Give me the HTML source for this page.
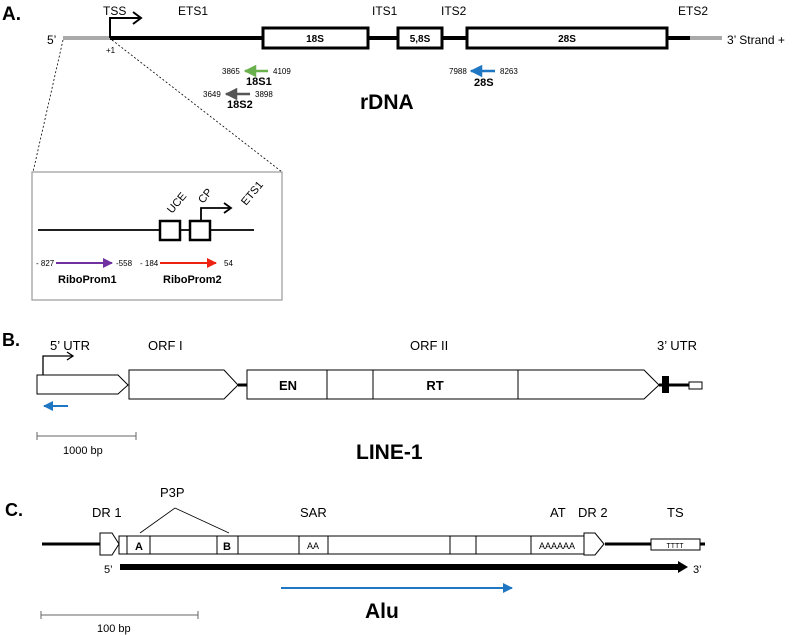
<!DOCTYPE html>
<html><head><meta charset="utf-8"><style>
html,body{margin:0;padding:0;background:#fff}
svg{display:block;font-family:"Liberation Sans","DejaVu Sans",sans-serif}
</style></head><body>
<svg width="794" height="635" viewBox="0 0 794 635" xmlns="http://www.w3.org/2000/svg">
<defs>
<marker id="ah" viewBox="0 0 10 10" refX="9" refY="5" markerWidth="5" markerHeight="5" orient="auto"><path d="M0,0 L10,5 L0,10 z" fill="context-stroke"/></marker>
</defs>
<!-- A -->
<text x="2" y="20" font-size="19" font-weight="bold">A.</text>
<line x1="63" y1="38" x2="110" y2="38" stroke="#aaa" stroke-width="4"/>
<line x1="690" y1="38" x2="722" y2="38" stroke="#aaa" stroke-width="4"/>
<line x1="110" y1="38" x2="690" y2="38" stroke="#000" stroke-width="4"/>
<polyline points="110,38 110,18 140,18" fill="none" stroke="#000" stroke-width="2"/>
<polyline points="133,12 141,18 133,24" fill="none" stroke="#000" stroke-width="2"/>
<rect x="263" y="28" width="105" height="20" fill="#fff" stroke="#000" stroke-width="3"/>
<rect x="398" y="28" width="44" height="20" fill="#fff" stroke="#000" stroke-width="3"/>
<rect x="467" y="28" width="200" height="20" fill="#fff" stroke="#000" stroke-width="3"/>
<g font-size="10" font-weight="bold" text-anchor="middle"><text x="315" y="42">18S</text><text x="420" y="42">5,8S</text><text x="567" y="42">28S</text></g>
<g font-size="12"><text x="103" y="15">TSS</text><text x="178" y="15">ETS1</text><text x="372" y="15">ITS1</text><text x="441" y="15">ITS2</text><text x="678" y="15">ETS2</text>
<text x="47" y="44">5’</text><text x="727" y="44">3’  Strand +</text></g>
<text x="106" y="53" font-size="8">+1</text>
<g font-size="8"><text x="222" y="74">3865</text><text x="273" y="74">4109</text><text x="203" y="97">3649</text><text x="255" y="97">3898</text>
<text x="449" y="74">7988</text><text x="500" y="74">8263</text></g>
<g font-size="11" font-weight="bold"><text x="246" y="85">18S1</text><text x="227" y="108">18S2</text><text x="474" y="86">28S</text></g>
<line x1="268" y1="71" x2="245" y2="71" stroke="#6ab04c" stroke-width="2.5" marker-end="url(#ah)"/>
<line x1="250" y1="94" x2="226" y2="94" stroke="#555" stroke-width="2.5" marker-end="url(#ah)"/>
<line x1="495" y1="71" x2="471" y2="71" stroke="#1f77c4" stroke-width="2.5" marker-end="url(#ah)"/>
<text x="360" y="109" font-size="21" font-weight="bold">rDNA</text>
<line x1="63" y1="40" x2="33" y2="172" stroke="#000" stroke-width="0.8" stroke-dasharray="2,2"/>
<line x1="112" y1="40" x2="282" y2="172" stroke="#000" stroke-width="0.8" stroke-dasharray="2,2"/>
<rect x="32" y="172" width="250" height="128" fill="none" stroke="#999" stroke-width="1.2"/>
<line x1="38" y1="230" x2="254" y2="230" stroke="#000" stroke-width="1.8"/>
<rect x="160" y="221" width="20" height="19" fill="#fff" stroke="#000" stroke-width="2.5"/>
<rect x="190" y="221" width="20" height="19" fill="#fff" stroke="#000" stroke-width="2.5"/>
<polyline points="201,221 201,208 230,208" fill="none" stroke="#000" stroke-width="1.8"/>
<polyline points="224,203 231,208 224,213" fill="none" stroke="#000" stroke-width="1.8"/>
<g font-size="11"><text transform="translate(172,214) rotate(-50)">UCE</text><text transform="translate(203,204) rotate(-50)">CP</text><text transform="translate(246,206) rotate(-50)">ETS1</text></g>
<g font-size="8"><text x="36" y="266">- 827</text><text x="116" y="266">-558</text><text x="140" y="266">- 184</text><text x="224" y="266">54</text></g>
<line x1="56" y1="263" x2="112" y2="263" stroke="#7030a0" stroke-width="2" marker-end="url(#ah)"/>
<line x1="160" y1="263" x2="216" y2="263" stroke="#e21" stroke-width="2" marker-end="url(#ah)"/>
<g font-size="11" font-weight="bold"><text x="58" y="283">RiboProm1</text><text x="163" y="283">RiboProm2</text></g>
<!-- B -->
<text x="2" y="346" font-size="18" font-weight="bold">B.</text>
<g font-size="13"><text x="50" y="350">5’ UTR</text><text x="148" y="350">ORF I</text><text x="410" y="350">ORF II</text><text x="657" y="350">3’ UTR</text></g>
<polyline points="43,375 43,356 72,356" fill="none" stroke="#000" stroke-width="1.3"/>
<polyline points="67,352 73,356 67,360" fill="none" stroke="#000" stroke-width="1.3"/>
<line x1="238" y1="385" x2="248" y2="385" stroke="#000" stroke-width="3"/>
<polygon points="37,375 118,375 128,385 118,394 37,394" fill="#fff" stroke="#000" stroke-width="1"/>
<polygon points="129,370 224,370 238,385 224,399 129,399" fill="#fff" stroke="#000" stroke-width="1"/>
<polygon points="247,370 644,370 659,385 644,399 247,399" fill="#fff" stroke="#000" stroke-width="1"/>
<g stroke="#000" stroke-width="1"><line x1="327" y1="370" x2="327" y2="399"/><line x1="373" y1="370" x2="373" y2="399"/><line x1="518" y1="370" x2="518" y2="399"/></g>
<g font-size="13" font-weight="bold" text-anchor="middle"><text x="288" y="390">EN</text><text x="435" y="390">RT</text></g>
<rect x="662" y="376" width="7" height="17" fill="#000"/>
<line x1="659" y1="385" x2="689" y2="385" stroke="#000" stroke-width="3"/>
<rect x="689" y="382" width="13" height="7" fill="#fff" stroke="#000" stroke-width="1"/>
<line x1="68" y1="406" x2="44" y2="406" stroke="#1f77c4" stroke-width="2" marker-end="url(#ah)"/>
<g stroke="#666" stroke-width="1"><line x1="37" y1="436" x2="136" y2="436"/><line x1="37" y1="432" x2="37" y2="440"/><line x1="136" y1="432" x2="136" y2="440"/></g>
<text x="63" y="454" font-size="11">1000 bp</text>
<text x="356" y="459" font-size="21" font-weight="bold">LINE-1</text>
<!-- C -->
<text x="5" y="516" font-size="18" font-weight="bold">C.</text>
<g font-size="13"><text x="92" y="517">DR 1</text><text x="160" y="497">P3P</text><text x="300" y="517">SAR</text><text x="550" y="517">AT</text><text x="578" y="517">DR 2</text><text x="667" y="517">TS</text></g>
<g stroke="#000" stroke-width="0.8"><line x1="175" y1="508" x2="140" y2="533"/><line x1="175" y1="508" x2="229" y2="533"/></g>
<line x1="42" y1="544" x2="100" y2="544" stroke="#000" stroke-width="3"/>
<line x1="605" y1="544" x2="705" y2="544" stroke="#000" stroke-width="3"/>
<polygon points="100,533 112,533 119,544 112,555 100,555" fill="#fff" stroke="#000" stroke-width="1"/>
<rect x="119" y="536" width="465" height="18" fill="#fff" stroke="#000" stroke-width="1"/>
<g stroke="#000" stroke-width="1"><line x1="127" y1="536" x2="127" y2="554"/><line x1="150" y1="536" x2="150" y2="554"/><line x1="217" y1="536" x2="217" y2="554"/><line x1="238" y1="536" x2="238" y2="554"/><line x1="299" y1="536" x2="299" y2="554"/><line x1="328" y1="536" x2="328" y2="554"/><line x1="450" y1="536" x2="450" y2="554"/><line x1="476" y1="536" x2="476" y2="554"/><line x1="531" y1="536" x2="531" y2="554"/></g>
<polygon points="584,533 595,533 604,544 595,555 584,555" fill="#fff" stroke="#000" stroke-width="1"/>
<g font-size="11" text-anchor="middle"><text x="139" y="550" font-weight="bold">A</text><text x="227" y="550" font-weight="bold">B</text><text x="313" y="549" font-size="9">AA</text><text x="557" y="549" font-size="9">AAAAAA</text></g>
<rect x="651" y="539" width="49" height="11" fill="#fff" stroke="#000" stroke-width="1"/>
<text x="675" y="548" font-size="7" text-anchor="middle">TTTT</text>
<text x="104" y="573" font-size="11">5’</text>
<line x1="120" y1="567" x2="680" y2="567" stroke="#000" stroke-width="6"/>
<polygon points="678,561 688,567 678,573" fill="#000"/>
<text x="693" y="573" font-size="11">3’</text>
<line x1="281" y1="588" x2="512" y2="588" stroke="#1f77c4" stroke-width="2" marker-end="url(#ah)"/>
<g stroke="#666" stroke-width="1"><line x1="41" y1="615" x2="198" y2="615"/><line x1="41" y1="611" x2="41" y2="619"/><line x1="198" y1="611" x2="198" y2="619"/></g>
<text x="97" y="632" font-size="11">100 bp</text>
<text x="365" y="618" font-size="21" font-weight="bold">Alu</text>
</svg>
</body></html>
